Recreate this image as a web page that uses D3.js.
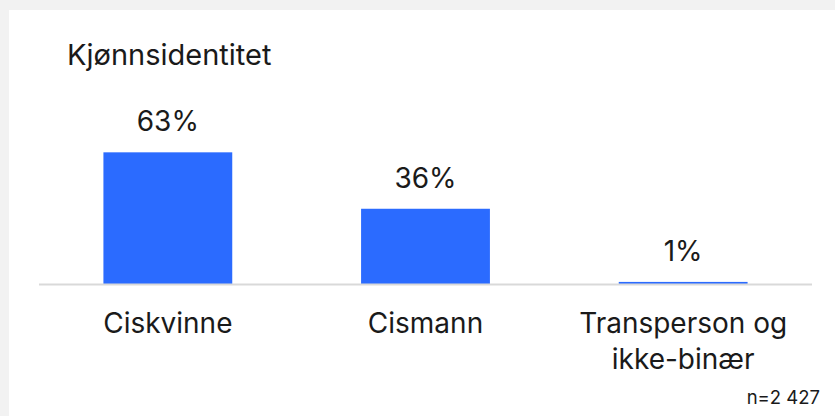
<!DOCTYPE html>
<html><head><meta charset="utf-8">
<script src="https://cdn.jsdelivr.net/npm/d3@7"></script>
<style>
html,body{margin:0;padding:0;background:#f2f2f2;}
svg{display:block;}
text{font-family:Inter, "DejaVu Sans", sans-serif;fill:#1a1a1a;}
</style></head>
<body>
<svg id="chart" width="835" height="416"></svg>
<script>
const title = "Kjønnsidentitet";
const categories = [["Ciskvinne"], ["Cismann"], ["Transperson og", "ikke-binær"]];
const values = [63, 36, 1];
const valueLabels = ["63%", "36%", "1%"];
const note = "n=2 427";

const svg = d3.select("#chart");
svg.append("rect").attr("x", 9).attr("y", 10).attr("width", 826).attr("height", 406).attr("fill", "#fff");

const x = d3.scaleBand().domain(d3.range(values.length)).range([39, 812]).paddingInner(0.5).paddingOuter(0.25);
const y = d3.scaleLinear().domain([0, 100]).range([284, 75]);

svg.append("text").attr("x", 67).attr("y", 65).attr("font-size", 29).text(title);

svg.selectAll("rect.bar").data(values).join("rect").attr("class", "bar")
  .attr("x", (d, i) => x(i)).attr("width", x.bandwidth())
  .attr("y", d => y(d)).attr("height", d => y(0) - y(d))
  .attr("fill", "#2b6bff");

svg.append("line").attr("x1", 39).attr("x2", 812).attr("y1", y(0) + 0.5).attr("y2", y(0) + 0.5)
  .attr("stroke", "#d9d9d9").attr("stroke-width", 2);

svg.selectAll("text.val").data(values).join("text").attr("class", "val")
  .attr("x", (d, i) => x(i) + x.bandwidth() / 2).attr("y", d => y(d) - 21)
  .attr("text-anchor", "middle").attr("font-size", 28)
  .text((d, i) => valueLabels[i]);

const cat = svg.selectAll("text.cat").data(categories).join("text").attr("class", "cat")
  .attr("text-anchor", "middle").attr("font-size", 28)
  .attr("transform", (d, i) => `translate(${x(i) + x.bandwidth() / 2},333)`);
cat.selectAll("tspan").data(d => d).join("tspan")
  .attr("x", 0).attr("y", (d, j) => j * 36).text(d => d);

svg.append("text").attr("x", 820).attr("y", 404).attr("text-anchor", "end").attr("font-size", 18.5).text(note);
</script>
</body></html>
